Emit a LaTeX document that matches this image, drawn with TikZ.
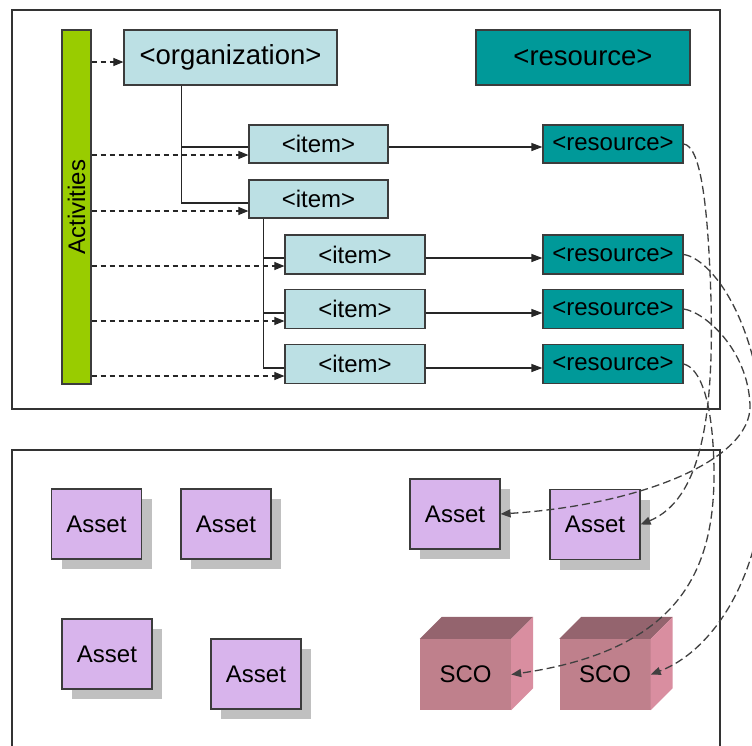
\documentclass[tikz,border=0pt]{standalone}
\usepackage{fontspec}
\setmainfont{Liberation Sans}
\usetikzlibrary{arrows.meta,shadows}

\definecolor{itemblue}{RGB}{188,224,228}
\definecolor{resteal}{RGB}{0,153,153}
\definecolor{actgreen}{RGB}{153,204,0}
\definecolor{assetlilac}{RGB}{216,180,236}
\definecolor{shadowgray}{RGB}{192,192,192}
\definecolor{scofront}{RGB}{191,128,140}
\definecolor{scotop}{RGB}{148,100,110}
\definecolor{scoside}{RGB}{217,142,160}
\definecolor{edge}{RGB}{60,60,60}

\begin{document}
\begin{tikzpicture}[x=1pt,y=-1pt,
  txt/.style={font=\fontsize{24}{28}\selectfont},
  box/.style={draw=edge,line width=1.2pt,inner sep=0pt,txt},
  itembox/.style={box,fill=itemblue,minimum width=139pt,minimum height=38pt},
  resbox/.style={box,fill=resteal,minimum width=140pt,minimum height=38pt},
  bigbox/.style={box,minimum width=213pt,minimum height=55pt,font=\fontsize{27.5}{32}\selectfont},
  asset/.style={box,fill=assetlilac,minimum width=90pt,minimum height=70pt,
    general shadow={fill=shadowgray,shadow xshift=10pt,shadow yshift=-10pt}},
  scoface/.style={inner sep=0pt,minimum width=91pt,minimum height=71pt,fill=scofront,txt},
  frame/.style={draw=black!80,line width=1.5pt},
  tree/.style={draw=black!85,line width=1.2pt},
  link/.style={tree,-{Triangle[length=11pt,width=8pt]}},
  ref/.style={draw=black!85,line width=1.1pt,dash pattern=on 5pt off 4pt,
    -{Triangle[length=10pt,width=8pt]}},
  rel/.style={draw=black!75,line width=1.3pt,dash pattern=on 8pt off 4pt,
    -{Triangle[length=10pt,width=8pt]}}
]
\useasboundingbox (0,0) rectangle (752,745);
\clip (0,0) rectangle (752,745);

% panels
\draw[frame] (12,10) rectangle (720,409);
\draw[frame] (12,770) -- (12,450) -- (720,450) -- (720,770);

% activity tree
\node[box,fill=actgreen,minimum width=29pt,minimum height=354pt] (act) at (76.5,207) {};
\node[txt,rotate=90,inner sep=0pt] (acttext) at (act.center) {Activities};

\node[bigbox,fill=itemblue] (org) at (230.5,57.5) {<organization>};
\node[bigbox,fill=resteal,minimum width=214pt] (rtop) at (583,57.5) {<resource>};

\node[itembox] (i1) at (318.5,144) {<item>};
\node[itembox] (i2) at (318.5,199) {<item>};
\node[itembox,minimum width=140pt,minimum height=39pt] (i3) at (355,254.5) {<item>};
\node[itembox,minimum width=140pt,minimum height=39pt] (i4) at (355,309) {<item>};
\node[itembox,minimum width=140pt,minimum height=39pt] (i5) at (355,364) {<item>};

\node[resbox] (r1) at (613,144) {<resource>};
\node[resbox,minimum height=39pt] (r3) at (613,254.5) {<resource>};
\node[resbox,minimum height=39pt] (r4) at (613,309) {<resource>};
\node[resbox,minimum height=39pt] (r5) at (613,364) {<resource>};

% tree branches
\coordinate (t0) at ([xshift=58pt]org.south west);
\coordinate (b1) at ([yshift=-3pt]i1.west);
\coordinate (b2) at ([yshift=-4pt]i2.west);
\draw[tree] (t0) |- (b2);
\draw[tree] (t0 |- b1) -- (b1);

\coordinate (t1) at ([xshift=15pt]i2.south west);
\coordinate (b3) at ([yshift=-3.5pt]i3.west);
\coordinate (b4) at ([yshift=-4pt]i4.west);
\coordinate (b5) at ([yshift=-4pt]i5.west);
\draw[tree] (t1) |- (b5);
\draw[tree] (t1 |- b3) -- (b3);
\draw[tree] (t1 |- b4) -- (b4);

% items to resources
\draw[link] (b1 -| i1.east) -- (b1 -| r1.west);
\draw[link] (b3 -| i3.east) -- (b3 -| r3.west);
\draw[link] (b4 -| i4.east) -- (b4 -| r4.west);
\draw[link] (b5 -| i5.east) -- (b5 -| r5.west);

% activities referencing the tree
\coordinate (d0) at ([yshift=-4.5pt]org.west);
\coordinate (d1) at ([yshift=-11pt]i1.west);
\coordinate (d2) at ([yshift=-12pt]i2.west);
\coordinate (d3) at ([yshift=-11.5pt]i3.west);
\coordinate (d4) at ([yshift=-12pt]i4.west);
\coordinate (d5) at ([yshift=-12pt]i5.west);
\foreach \d in {d0,d1,d2,d3,d4,d5}
  \draw[ref] (act.east |- \d) -- (\d);

% content packages
\node[asset] (a1) at (96.5,524) {Asset};
\node[asset] (a2) at (226,524) {Asset};
\node[asset] (a3) at (107,654) {Asset};
\node[asset] (a4) at (256,674) {Asset};
\node[asset] (a5) at (455,514) {Asset};
\node[asset] (a6) at (595,524.5) {Asset};

% SCO cubes
\foreach \s/\x in {s1/465.5,s2/605}{
  \node[scoface] (\s) at (\x,674.5) {SCO};
  \fill[scotop] (\s.north west) -- ++(22,-22)
    -- ([shift={(22,-22)}]\s.north east) -- (\s.north east) -- cycle;
  \fill[scoside] (\s.north east) -- ++(22,-22)
    -- ([shift={(22,-22)}]\s.south east) -- (\s.south east) -- cycle;
}

% resources pointing to their files
\coordinate (m1) at (711,300);
\draw[rel] (r1.east) .. controls (700,146) and (708,200) .. (m1)
  .. controls (714,420) and (700,500) .. (a6.east);
\coordinate (m5) at (714,470);
\draw[rel] (r5.east) .. controls (700,368) and (713,400) .. (m5)
  .. controls (715,570) and (680,650) .. (s1.east);
\coordinate (m4) at (750,405);
\draw[rel] (r4.east) .. controls (705,312) and (748,350) .. (m4)
  .. controls (752,460) and (640,505) .. (a5.east);
\coordinate (m3) at (765,450);
\draw[rel] (r3.east) .. controls (710,258) and (762,320) .. (m3)
  .. controls (768,570) and (715,650) .. (s2.east);
\end{tikzpicture}
\end{document}
